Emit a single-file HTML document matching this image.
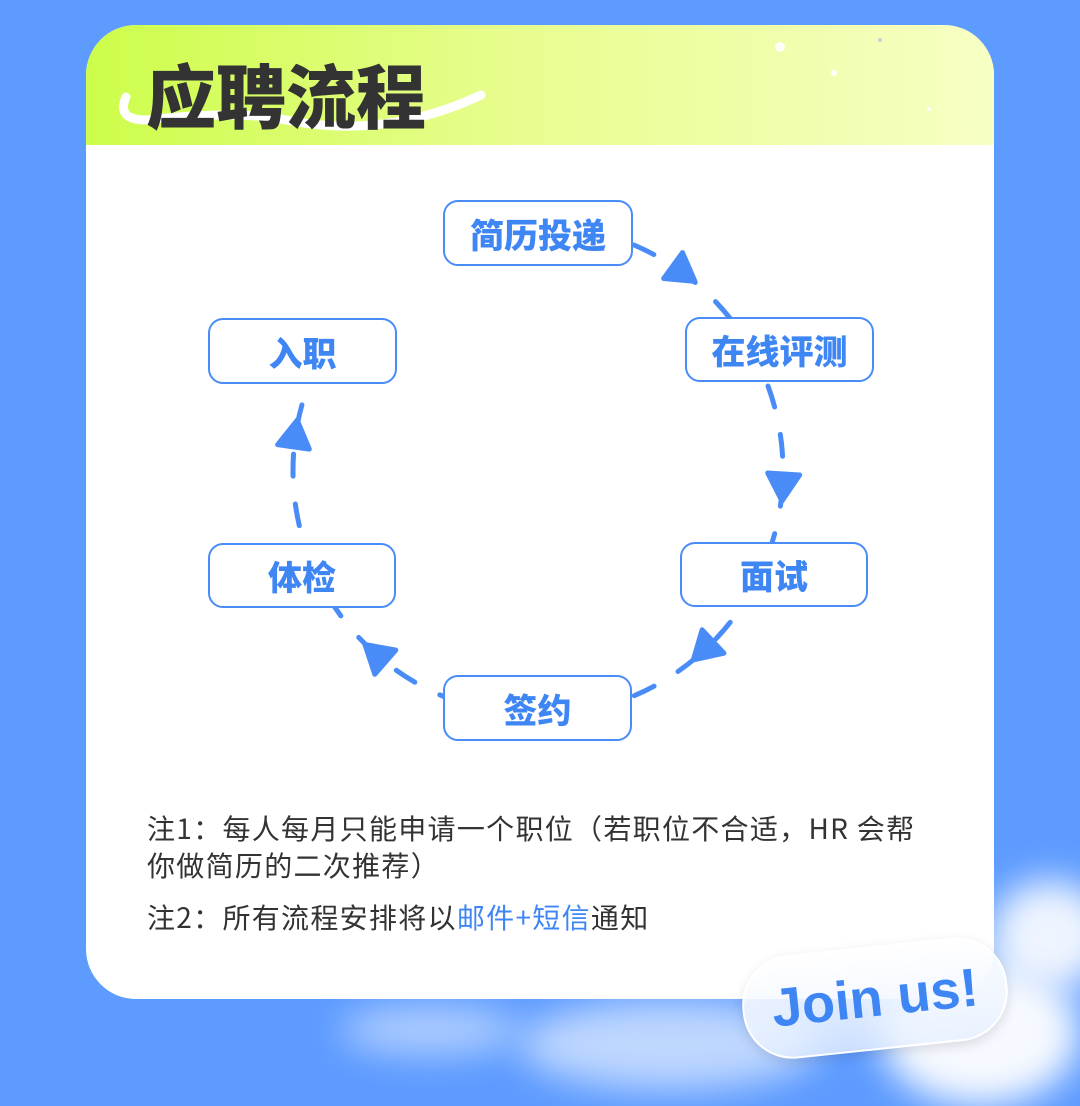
<!DOCTYPE html>
<html style="overflow:hidden;width:1080px;height:1106px"><head><meta charset="utf-8">
<style>
html,body{margin:0;padding:0}
body{width:1080px;height:1106px;overflow:hidden;background:#5d9bff;font-family:"Liberation Sans","Noto Sans CJK SC",sans-serif;position:relative}
.card{position:absolute;left:86px;top:25px;width:908px;height:974px;background:#fff;border-radius:50px;overflow:hidden}
.head{position:absolute;left:0;top:0;width:100%;height:120px;background:linear-gradient(90deg,#cdfd4a 0%,#e6fd8c 45%,#f7ffc4 100%)}
.title{position:absolute;left:60px;top:18px;font-size:70px;font-weight:900;color:#333;letter-spacing:0px;font-family:"Noto Sans CJK SC",sans-serif}
.node{position:absolute;border:2.5px solid #4a8cf7;border-radius:15px;background:#fff;color:#3f86f5;font-weight:900;font-size:34px;display:flex;align-items:center;justify-content:center;font-family:"Noto Sans CJK SC",sans-serif;box-sizing:border-box}
.note{position:absolute;left:147px;font-size:28px;letter-spacing:1.3px;color:#333;font-family:"Noto Sans CJK SC",sans-serif;white-space:nowrap;line-height:36px}
.clip{position:absolute;left:0;top:0;width:1080px;height:1106px;overflow:hidden}
.cloud{position:absolute;background:#fff;border-radius:50%;filter:blur(18px)}
.pill{position:absolute;left:742px;top:946px;width:262px;height:100px;border-radius:50px;transform:rotate(-6deg);background:linear-gradient(180deg,rgba(255,255,255,.95),rgba(230,240,255,.8));border:2px solid #fff;box-shadow:0 4px 12px rgba(0,0,0,.12);display:flex;align-items:center;justify-content:center;color:#3f86f5;font-weight:bold;font-size:54px}
</style></head><body>
<div class="clip">
<div class="cloud" style="left:990px;top:880px;width:120px;height:110px;opacity:.9"></div>
<div class="cloud" style="left:880px;top:960px;width:200px;height:146px;opacity:.95"></div>
<div class="cloud" style="left:520px;top:1000px;width:300px;height:90px;opacity:.6"></div>
<div class="cloud" style="left:340px;top:1005px;width:180px;height:50px;opacity:.5"></div>
</div>
<div class="card">
 <div class="head">
  <svg width="908" height="120" style="position:absolute;left:0;top:0">
   <path d="M40 72 Q30 95 60 95 Q150 85 200 95 Q300 115 395 70" fill="none" stroke="#fff" stroke-width="9" stroke-linecap="round"/>
   <circle cx="694" cy="22" r="5" fill="#fff" opacity=".9"/>
   <circle cx="748" cy="48" r="3" fill="#fff"/>
   <circle cx="843" cy="84" r="2" fill="#fff"/>
   <circle cx="794" cy="15" r="2" fill="#ccd"/>
  </svg>
  <div class="title">应聘流程</div>
 </div>
</div>
<svg width="1080" height="1106" style="position:absolute;left:0;top:0">
 <path d="M634 245 A245 245 0 1 1 308 386" fill="none" stroke="#4a8cf7" stroke-width="5" stroke-dasharray="22 28" stroke-linecap="round"/>
 <g fill="#4a8cf7" stroke="#4a8cf7" stroke-width="5" stroke-linejoin="round">
  <polygon points="16,0 -11,-16 -11,16" transform="translate(682,272) rotate(36)"/>
  <polygon points="16,0 -11,-16 -11,16" transform="translate(783,485) rotate(93.5)"/>
  <polygon points="16,0 -11,-16 -11,16" transform="translate(705,649) rotate(137)"/>
  <polygon points="16,0 -11,-16 -11,16" transform="translate(377,655) rotate(221)"/>
  <polygon points="16,0 -11,-16 -11,16" transform="translate(295,436) rotate(278)"/>
 </g>
</svg>
<div class="node" style="left:443px;top:200px;width:190px;height:66px">简历投递</div>
<div class="node" style="left:685px;top:317px;width:189px;height:65px">在线评测</div>
<div class="node" style="left:680px;top:542px;width:188px;height:65px">面试</div>
<div class="node" style="left:443px;top:675px;width:189px;height:66px">签约</div>
<div class="node" style="left:208px;top:543px;width:188px;height:65px">体检</div>
<div class="node" style="left:208px;top:318px;width:189px;height:66px">入职</div>
<div class="note" style="top:810px">注1：每人每月只能申请一个职位（若职位不合适，HR 会帮</div>
<div class="note" style="top:847px">你做简历的二次推荐）</div>
<div class="note" style="top:899px">注2：所有流程安排将以<span style="color:#3f86f5">邮件+短信</span>通知</div>
<div class="pill">Join us!</div>
</body></html>
